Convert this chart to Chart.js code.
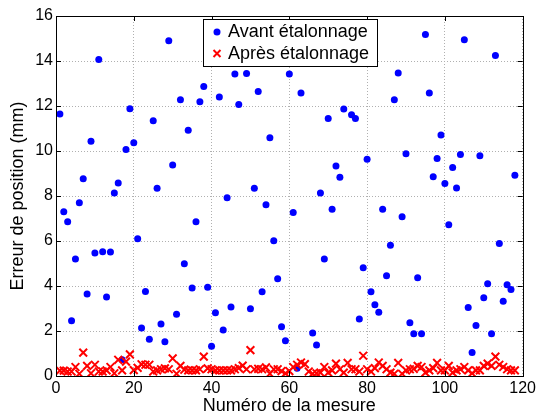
<!DOCTYPE html>
<html>
<head>
<meta charset="utf-8">
<script src="https://cdn.jsdelivr.net/npm/chart.js@4/dist/chart.umd.min.js"></script>
<style>
  html, body { margin: 0; padding: 0; background: #fff; }
  canvas { display: block; }
</style>
</head>
<body>
<canvas id="mesureChart" width="539" height="415"></canvas>
<script>
// Erreur de position (mm), mesures 1 à 118 (null = point non visible)
const avantEtalonnage = [
    11.65, 7.30, 6.86, 2.46, 5.20, 7.70, 8.77, 3.64, 10.43, 5.47,
    14.07, 5.52, 3.51, 5.51, 8.13, 8.58, 0.72, 10.07, 11.88, 10.37,
    6.10, 2.13, 3.76, 1.63, 11.35, 8.34, 2.31, 1.52, 14.90, 9.38,
    2.75, 12.28, 4.99, 10.92, 3.91, 6.86, 12.19, 12.87, 3.95, 1.32,
    2.81, 12.40, 2.04, 7.92, 3.07, 13.42, 12.07, null, 13.44, 2.99,
    8.35, 12.64, 3.75, 7.61, 10.59, 6.01, 4.32, 2.19, 1.57, 13.42,
    7.27, 0.35, 12.58, null, null, 1.91, 1.38, 8.13, 5.20, 11.45,
    7.41, 9.33, 8.83, 11.87, null, 11.61, 11.45, 2.53, 4.81, 9.63,
    3.75, 3.17, 2.83, 7.41, 4.46, 5.81, 12.28, 13.47, 7.08, 9.88,
    2.37, 1.88, 4.37, 1.88, 15.18, 12.58, 8.86, 9.67, 10.71, 8.56,
    6.72, 9.27, 8.36, 9.85, 14.95, 3.04, 1.04, 2.24, 9.79, 3.48,
    4.10, 1.88, 14.24, 5.89, 3.32, 4.06, 3.84, 8.92
];

const apresEtalonnage = [
    0.24, 0.24, 0.20, 0.20, 0.40, 0.10, 1.04, 0.45, 0.12, 0.50,
    0.20, 0.20, 0.25, 0.40, 0.12, 0.72, 0.25, 0.64, 0.96, 0.26,
    0.36, 0.52, 0.50, 0.50, 0.20, 0.25, 0.30, 0.34, 0.30, 0.78,
    0.10, 0.45, 0.28, 0.25, 0.25, 0.25, 0.30, 0.86, 0.34, 0.30,
    0.25, 0.25, 0.25, 0.25, 0.25, 0.30, 0.35, 0.46, 0.30, 1.15,
    0.30, 0.32, 0.30, 0.38, 0.10, 0.30, 0.30, 0.22, 0.12, 0.22,
    0.40, 0.50, 0.60, 0.53, 0.20, 0.10, 0.12, 0.15, 0.40, 0.15,
    0.25, 0.55, 0.30, 0.15, 0.58, 0.30, 0.30, 0.20, 0.90, 0.30,
    0.20, 0.35, 0.60, 0.45, 0.30, 0.15, 0.10, 0.58, 0.10, 0.25,
    0.30, 0.32, 0.45, 0.40, 0.15, 0.25, 0.35, 0.58, 0.25, 0.25,
    0.45, 0.15, 0.25, 0.30, 0.40, 0.25, 0.12, 0.25, 0.25, 0.45,
    0.55, 0.45, 0.86, 0.50, 0.40, 0.30, 0.25, 0.25
];

const numeroMesure = avantEtalonnage.map((_, i) => i + 1);

const xTicks = [0, 20, 40, 60, 80, 100, 120];
const yTicks = [0, 2, 4, 6, 8, 10, 12, 14, 16];

const legendLabels = ['Avant étalonnage', 'Après étalonnage'];

const fontFamily = '"Liberation Sans", Arial, Helvetica, sans-serif';
Chart.defaults.font.family = fontFamily;
Chart.defaults.color = '#000';

const toPoints = (values) => values
    .map((v, i) => ({ x: numeroMesure[i], y: v }))
    .filter((p) => p.y !== null);

// cadre complet + petites graduations vers l'intérieur (style MATLAB)
const frameTicks = {
    id: 'frameTicks',
    afterDatasetsDraw(chart) {
        const { ctx, chartArea: a, scales } = chart;
        const len = 5;
        ctx.save();
        ctx.strokeStyle = '#000';
        ctx.lineWidth = 1;
        ctx.beginPath();
        xTicks.forEach((t) => {
            const px = Math.round(scales.x.getPixelForValue(t)) + 0.5;
            ctx.moveTo(px, a.bottom); ctx.lineTo(px, a.bottom - len);
            ctx.moveTo(px, a.top); ctx.lineTo(px, a.top + len);
        });
        yTicks.forEach((t) => {
            const py = Math.round(scales.y.getPixelForValue(t)) + 0.5;
            ctx.moveTo(a.left, py); ctx.lineTo(a.left + len, py);
            ctx.moveTo(a.right, py); ctx.lineTo(a.right - len, py);
        });
        ctx.stroke();
        ctx.strokeRect(Math.round(a.left) + 0.5, Math.round(a.top) + 0.5,
            Math.round(a.right - a.left), Math.round(a.bottom - a.top));
        ctx.restore();
    }
};

// légende encadrée dans la zone du graphique
const legendInside = {
    id: 'legendInside',
    afterDraw(chart) {
        const { ctx } = chart;
        const box = { x: 203, y: 19, w: 174, h: 47 };
        ctx.save();
        ctx.fillStyle = '#fff';
        ctx.fillRect(box.x, box.y, box.w, box.h);
        ctx.strokeStyle = '#000';
        ctx.lineWidth = 1;
        ctx.strokeRect(box.x + 0.5, box.y + 0.5, box.w, box.h);

        const mx = 217;
        // Avant: point bleu
        ctx.fillStyle = '#0000ff';
        ctx.beginPath();
        ctx.arc(mx, 32, 3.5, 0, Math.PI * 2);
        ctx.fill();
        // Après: croix rouge
        ctx.strokeStyle = '#ff0000';
        ctx.lineWidth = 2;
        ctx.beginPath();
        ctx.moveTo(mx - 3.5, 53.5 - 3.5); ctx.lineTo(mx + 3.5, 53.5 + 3.5);
        ctx.moveTo(mx - 3.5, 53.5 + 3.5); ctx.lineTo(mx + 3.5, 53.5 - 3.5);
        ctx.stroke();

        ctx.fillStyle = '#000';
        ctx.font = '18px ' + fontFamily;
        ctx.textBaseline = 'middle';
        ctx.fillText(legendLabels[0], 228, 32);
        ctx.fillText(legendLabels[1], 228, 54);
        ctx.restore();
    }
};

const axisStyle = {
    grid: { color: '#b0b0b0', lineWidth: 1, drawTicks: false },
    border: { display: true, color: '#000', width: 1, dash: [1, 2] }
};

new Chart(document.getElementById('mesureChart'), {
    type: 'scatter',
    data: {
        datasets: [{
            label: legendLabels[0],
            data: toPoints(avantEtalonnage),
            pointStyle: 'circle',
            pointRadius: 3.5,
            borderWidth: 0,
            backgroundColor: '#0000ff',
            borderColor: '#0000ff',
            order: 1
        }, {
            label: legendLabels[1],
            data: toPoints(apresEtalonnage),
            pointStyle: 'crossRot',
            pointRadius: 5.5,
            borderWidth: 2,
            backgroundColor: '#ff0000',
            borderColor: '#ff0000',
            order: 0
        }]
    },
    options: {
        responsive: false,
        animation: false,
        events: [],
        layout: { padding: { left: 0, right: 14, top: 16, bottom: 0 } },
        plugins: {
            legend: { display: false },
            tooltip: { enabled: false }
        },
        scales: {
            x: {
                type: 'linear',
                min: 0,
                max: 120,
                ...axisStyle,
                afterBuildTicks: (scale) => { scale.ticks = xTicks.map((v) => ({ value: v })); },
                afterFit: (scale) => { scale.height = 39; },
                ticks: { font: { size: 16 }, padding: 3, maxRotation: 0 },
                title: {
                    display: true,
                    text: 'Numéro de la mesure',
                    font: { size: 18, lineHeight: 1 },
                    padding: { top: 0, bottom: 0 }
                }
            },
            y: {
                type: 'linear',
                min: 0,
                max: 16,
                ...axisStyle,
                afterBuildTicks: (scale) => { scale.ticks = yTicks.map((v) => ({ value: v })); },
                afterFit: (scale) => { scale.width = 56; },
                ticks: { font: { size: 16 }, padding: 3 },
                title: {
                    display: true,
                    text: 'Erreur de position (mm)',
                    font: { size: 18, lineHeight: 1 },
                    padding: { top: 9, bottom: 0 }
                }
            }
        }
    },
    plugins: [frameTicks, legendInside]
});
</script>
</body>
</html>
